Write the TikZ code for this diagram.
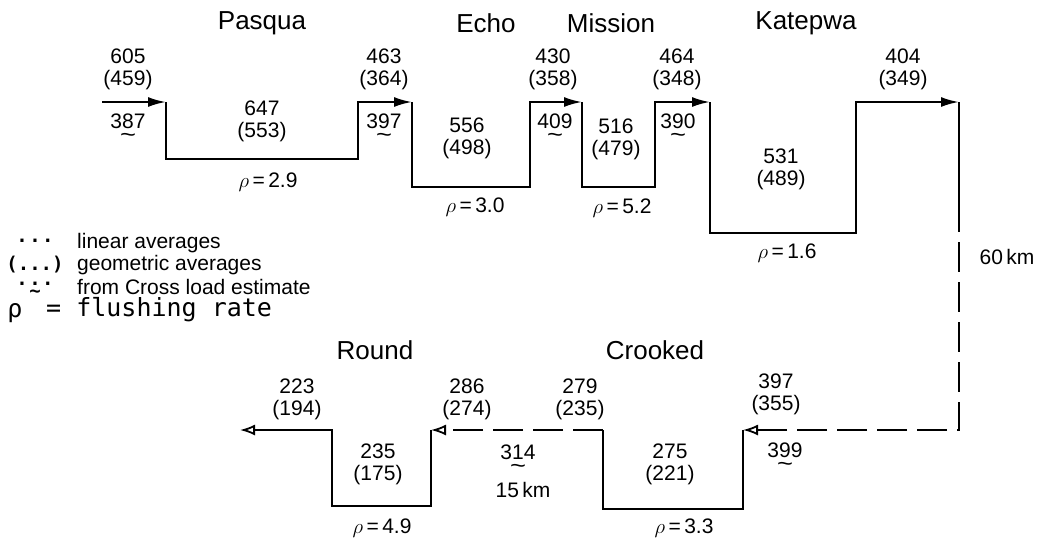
\documentclass[tikz,border=0pt]{standalone}
\usepackage{fontspec}
\usepackage{graphicx}
\setmainfont{Liberation Sans}
\newfontfamily\monofont{DejaVu Sans Mono}
\usetikzlibrary{arrows.meta}
\newcommand\ut[1]{\ooalign{#1\cr\hidewidth\smash{\raisebox{-0.68em}{\scalebox{1.3}[1.1]{\textasciitilde}}}\hidewidth\cr}}
\newcommand\utl[1]{\ooalign{#1\cr\hidewidth\smash{\raisebox{-0.42em}{\textasciitilde}}\hidewidth\cr}}
\newcommand\rdot{\raisebox{0.22em}{.}}
\begin{document}
\begin{tikzpicture}[x=1pt,y=-1pt,
  flow/.style={line width=2.2pt,line join=miter},
  dsh/.style={line width=2.2pt,line join=miter,dash pattern=on 30pt off 10pt},
  tipT/.tip={Latex[length=18pt,width=10pt]},
  tipO/.tip={Latex[open,length=15pt,width=11pt,line width=1.8pt]},
  num/.style={font=\fontsize{21}{22}\selectfont,align=center,inner sep=0pt},
  ttl/.style={font=\fontsize{26}{28}\selectfont,inner sep=0pt},
  leg/.style={font=\fontsize{21}{22}\selectfont,inner sep=0pt,anchor=west},
  mono/.style={font=\monofont\fontsize{25}{26}\selectfont,inner sep=0pt},
  dots/.style={font=\monofont\bfseries\fontsize{19}{20}\selectfont,inner sep=0pt}
]
\useasboundingbox (0,0) rectangle (1048,542);

% titles
\node[ttl] (tP) at (262,23) {Pasqua};
\node[ttl] (tE) at (486,23) {Echo};
\node[ttl] (tM) at (611,23) {Mission};
\node[ttl] (tK) at (806,23) {Katepwa};
\node[ttl] (tR) at (375,350) {Round};
\node[ttl] (tC) at (655,350) {Crooked};

% flow coordinates
\coordinate (in) at (102,102);
\coordinate (p1) at (166,102);  \coordinate (p1b) at (166,159);
\coordinate (p2b) at (358,159); \coordinate (p2) at (358,102);
\coordinate (e1) at (412,102);  \coordinate (e1b) at (412,187);
\coordinate (e2b) at (530,187); \coordinate (e2) at (530,102);
\coordinate (m1) at (582,102);  \coordinate (m1b) at (582,187);
\coordinate (m2b) at (655,187); \coordinate (m2) at (655,102);
\coordinate (k1) at (710,102);  \coordinate (k1b) at (710,233);
\coordinate (k2b) at (856,233); \coordinate (k2) at (856,102);
\coordinate (r1) at (959,102);  \coordinate (rm) at (959,202);
\coordinate (r2) at (959,430);
\coordinate (c1) at (743,430);  \coordinate (c1b) at (743,509);
\coordinate (c2b) at (603,509); \coordinate (c2) at (603,430);
\coordinate (o1) at (431,430);  \coordinate (o1b) at (431,506);
\coordinate (o2b) at (332,506); \coordinate (o2) at (332,430);
\coordinate (out) at (240,430);

% top flow
\draw[flow,-{tipT}] (in) -- (p1);
\draw[flow,-{tipT}] (p1) -- (p1b) -- (p2b) -- (p2) -- (e1);
\draw[flow,-{tipT}] (e1) -- (e1b) -- (e2b) -- (e2) -- (m1);
\draw[flow,-{tipT}] (m1) -- (m1b) -- (m2b) -- (m2) -- (k1);
\draw[flow,-{tipT}] (k1) -- (k1b) -- (k2b) -- (k2) -- (r1);
\draw[flow] (r1) -- (rm);
\draw[dsh,-{tipO}] (rm) -- (r2) -- (c1);
% bottom flow
\draw[flow] (c1) -- (c1b) -- (c2b) -- (c2);
\draw[dsh,-{tipO}] (c2) -- (o1);
\draw[flow,-{tipO}] (o1) -- (o1b) -- (o2b) -- (o2) -- (out);

% top labels
\node[num] (n605) at (128,69) {605\\(459)};
\node[num] (n387) at (128,121) {3\ut{8}7};
\node[num] (n647) at (262,121) {647\\(553)};
\node[num] (r29) at (268,182) {$\rho$\,=\,2.9};
\node[num] (n463) at (384,69) {463\\(364)};
\node[num] (n397) at (384,121) {3\ut{9}7};
\node[num] (n556) at (467,138) {556\\(498)};
\node[num] (r30) at (475,207) {$\rho$\,=\,3.0};
\node[num] (n430) at (553,69) {430\\(358)};
\node[num] (n409) at (555,121) {4\ut{0}9};
\node[num] (n516) at (616,139) {516\\(479)};
\node[num] (r52) at (622,208) {$\rho$\,=\,5.2};
\node[num] (n464) at (677,69) {464\\(348)};
\node[num] (n390) at (678,121) {3\ut{9}0};
\node[num] (n531) at (781,169) {531\\(489)};
\node[num] (r16) at (787,253) {$\rho$\,=\,1.6};
\node[num] (n404) at (903,69) {404\\(349)};
\node[num] (km60) at (1007,257) {60\,km};

% bottom labels
\node[num] (n397b) at (776,394) {397\\(355)};
\node[num] (n399) at (785,450) {3\ut{9}9};
\node[num] (n279) at (580,399) {279\\(235)};
\node[num] (n275) at (670,464) {275\\(221)};
\node[num] (r33) at (684,528) {$\rho$\,=\,3.3};
\node[num] (n286) at (467,399) {286\\(274)};
\node[num] (n314) at (518,452) {3\ut{1}4};
\node[num] (km15) at (523,490) {15\,km};
\node[num] (n223) at (297,399) {223\\(194)};
\node[num] (n235) at (378,464) {235\\(175)};
\node[num] (r49) at (382,528) {$\rho$\,=\,4.9};

% legend
\node[dots] (d1) at (35,243) {\rdot\kern1.5pt\rdot\kern1.5pt\rdot};
\node[leg] (l1) at (77,243) {linear averages};
\node[dots] (d2) at (35,265) {(...)};
\node[leg] (l2) at (77,265) {geometric averages};
\node[dots] (d3) at (35,286) {\rdot\kern1.5pt\utl{\rdot}\kern1.5pt\rdot};
\node[leg] (l3) at (77,287) {from Cross load estimate};
\node[mono] (rho) at (15,313) {ρ};
\node[mono,anchor=west] (fr) at (46,310) {= flushing rate};
\end{tikzpicture}
\end{document}
